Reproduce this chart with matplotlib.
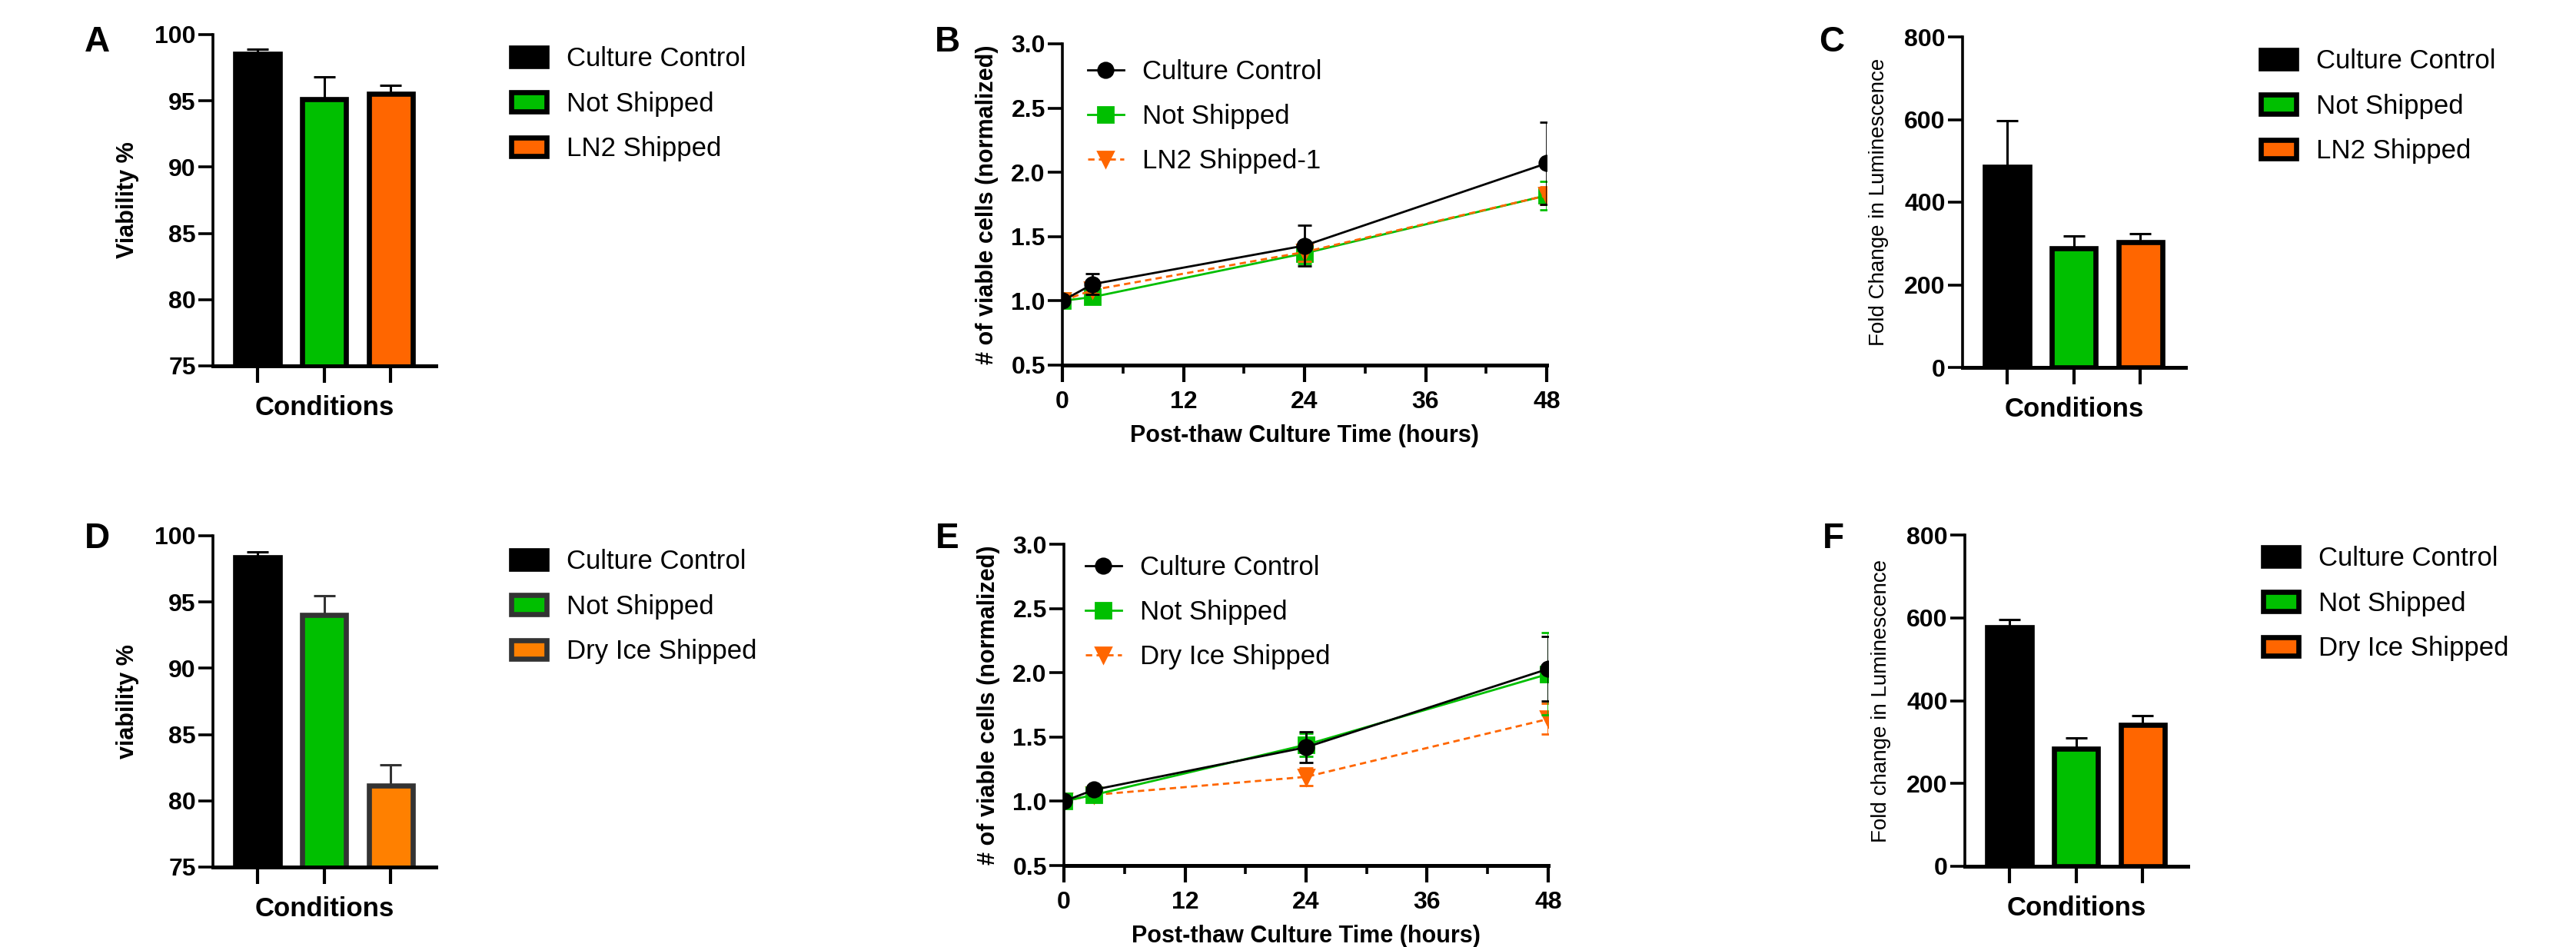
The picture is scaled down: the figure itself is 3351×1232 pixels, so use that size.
import numpy as np
import matplotlib
matplotlib.use("Agg")
import matplotlib.pyplot as plt
from matplotlib.patches import Patch
from matplotlib.lines import Line2D

plt.rcParams['font.family'] = ['Liberation Sans', 'DejaVu Sans']

# --- data ---
conditions_ln2 = ["Culture Control", "Not Shipped", "LN2 Shipped"]
conditions_dry = ["Culture Control", "Not Shipped", "Dry Ice Shipped"]

# A / D : viability %
viab_ln2 = [98.55, 95.1, 95.55]
viab_ln2_err = [0.35, 1.7, 0.6]
viab_dry = [98.4, 94.05, 81.15]
viab_dry_err = [0.4, 1.4, 1.55]

# C / F : fold change in luminescence
lum_ln2 = [485, 289, 304]
lum_ln2_err = [113, 30, 19]
lum_dry = [577, 284, 342]
lum_dry_err = [19, 26, 22]

# B / E : viable cells over time
hours = [0, 3, 24, 48]
b_cc = [1.0, 1.13, 1.43, 2.07]
b_cc_err = [0.0, 0.08, 0.16, 0.32]
b_ns = [1.0, 1.03, 1.37, 1.82]
b_ns_err = [0.02, 0.03, 0.08, 0.11]
b_ln2 = [1.0, 1.085, 1.38, 1.82]
b_ln2_err = [0.0, 0.03, 0.07, 0.07]
e_cc = [1.0, 1.09, 1.42, 2.03]
e_cc_err = [0.0, 0.02, 0.12, 0.25]
e_ns = [1.0, 1.05, 1.44, 1.99]
e_ns_err = [0.02, 0.02, 0.09, 0.32]
e_dry = [1.0, 1.05, 1.19, 1.64]
e_dry_err = [0.0, 0.02, 0.07, 0.12]

BLACK = "#000000"
GREEN = "#00BF00"
ORANGE = "#FF6600"
ORANGE2 = "#FF8000"
GREY = "#333333"

W, H = 3351, 1232
fig = plt.figure(figsize=(W / 200, H / 200), dpi=200)


def rect(left, top, right, bottom):
    return [left / W, 1 - bottom / H, (right - left) / W, (bottom - top) / H]


def style_axes(ax):
    ax.spines['top'].set_visible(False)
    ax.spines['right'].set_visible(False)
    ax.spines['left'].set_linewidth(1.3)
    ax.spines['bottom'].set_linewidth(1.8)
    for s in ax.spines.values():
        s.set_zorder(6)


def letter(x, y, s):
    fig.text(x / W, 1 - y / H, s, fontsize=16.5, fontweight='bold',
             ha='center', va='center')


def bar_panel(r, vals, errs, faces, edges, labels, ylim, yticks, ylabel,
              ylab_kw, leg_xy):
    ax = fig.add_axes(r)
    x = np.arange(len(vals))
    for i in range(len(vals)):
        ax.bar(x[i], vals[i], width=0.66, color=faces[i], edgecolor=edges[i],
               linewidth=2.4, zorder=3)
        ax.errorbar(x[i], vals[i], yerr=[[0], [errs[i]]], fmt='none',
                    ecolor=edges[i], elinewidth=1.1, capsize=5, capthick=1.1,
                    zorder=2)
    ax.set_xlim(-0.67, 2.68)
    ax.set_ylim(*ylim)
    style_axes(ax)
    ax.set_xticks(x)
    ax.set_xticklabels([])
    ax.tick_params(axis='x', length=8, width=1.5)
    ax.set_yticks(yticks)
    ax.set_yticklabels([str(t) for t in yticks], fontweight='bold')
    ax.tick_params(axis='y', length=7, width=1.3, labelsize=11.5, pad=1)
    ax.set_xlabel("Conditions", fontsize=12.5, fontweight='bold')
    ax.xaxis.set_label_coords(0.5, -0.088)
    ax.set_ylabel(ylabel, **ylab_kw)
    ax.yaxis.set_label_coords(-0.331, 0.5)
    handles = [Patch(facecolor=faces[i], edgecolor=edges[i], linewidth=2.4)
               for i in range(len(vals))]
    ax.legend(handles, labels, loc='upper left',
              bbox_to_anchor=(leg_xy[0] / W, 1 - leg_xy[1] / H),
              bbox_transform=fig.transFigure, frameon=False, fontsize=12.5,
              borderpad=0, borderaxespad=0, handlelength=1.33,
              handleheight=0.7, handletextpad=0.75, labelspacing=0.74)
    return ax


def line_panel(r, series, leg_xy):
    ax = fig.add_axes(r)
    handles, labels = [], []
    for vals, errs, color, marker, ls, label, z in series:
        ax.errorbar(hours, vals, yerr=errs, color=color, marker=marker,
                    markersize=7, linewidth=1.0, linestyle=ls,
                    dashes=(3, 2) if ls == '--' else (None, None),
                    elinewidth=1.0, capsize=3.4, capthick=1.0, zorder=z,
                    clip_on=True)
        h = Line2D([], [], color=color, marker=marker, markersize=7,
                   linewidth=1.0, linestyle=ls)
        if ls == '--':
            h.set_dashes((3, 2))
        handles.append(h)
        labels.append(label)
    ax.set_xlim(0, 48)
    ax.set_ylim(0.5, 3.0)
    style_axes(ax)
    ax.set_xticks([0, 12, 24, 36, 48])
    ax.set_xticklabels(['0', '12', '24', '36', '48'], fontweight='bold')
    ax.set_xticks([6, 18, 30, 42], minor=True)
    yt = [0.5, 1.0, 1.5, 2.0, 2.5, 3.0]
    ax.set_yticks(yt)
    ax.set_yticklabels(['%.1f' % t for t in yt], fontweight='bold')
    ax.tick_params(axis='x', which='major', length=8, width=1.5,
                   labelsize=11.5, pad=4)
    ax.tick_params(axis='x', which='minor', length=4, width=1.3)
    ax.tick_params(axis='y', length=7, width=1.3, labelsize=11.5, pad=1)
    ax.set_xlabel("Post-thaw Culture Time (hours)", fontsize=11,
                  fontweight='bold')
    ax.xaxis.set_label_coords(0.5, -0.184)
    ax.set_ylabel("# of viable cells (normalized)", fontsize=11,
                  fontweight='bold')
    ax.yaxis.set_label_coords(-0.132, 0.5)
    ax.legend(handles, labels, loc='upper left',
              bbox_to_anchor=(leg_xy[0] / W, 1 - leg_xy[1] / H),
              bbox_transform=fig.transFigure, frameon=False, fontsize=12.5,
              borderpad=0, borderaxespad=0, handlelength=1.35,
              handletextpad=0.7, labelspacing=0.72)
    return ax


bold_lab = dict(fontsize=11, fontweight='bold')
thin_lab = dict(fontsize=10)

# A
bar_panel(rect(277, 45, 567, 476), viab_ln2, viab_ln2_err,
          [BLACK, GREEN, ORANGE], [BLACK, BLACK, BLACK], conditions_ln2,
          (75, 100), [75, 80, 85, 90, 95, 100], "Viability %", bold_lab,
          (665, 60))
# D
bar_panel(rect(277, 697, 567, 1128), viab_dry, viab_dry_err,
          [BLACK, GREEN, ORANGE2], [BLACK, GREY, GREY], conditions_dry,
          (75, 100), [75, 80, 85, 90, 95, 100], "viability %", bold_lab,
          (665, 714))
# C
bar_panel(rect(2553, 48, 2843, 478), lum_ln2, lum_ln2_err,
          [BLACK, GREEN, ORANGE], [BLACK, BLACK, BLACK], conditions_ln2,
          (0, 800), [0, 200, 400, 600, 800], "Fold Change in Luminescence",
          thin_lab, (2941, 63))
# F
bar_panel(rect(2556, 696, 2846, 1127), lum_dry, lum_dry_err,
          [BLACK, GREEN, ORANGE], [BLACK, BLACK, BLACK], conditions_dry,
          (0, 800), [0, 200, 400, 600, 800], "Fold change in Luminescence",
          thin_lab, (2944, 710))

# B
line_panel(rect(1382, 57, 2012, 475), [
    (b_cc, b_cc_err, BLACK, 'o', '-', "Culture Control", 5),
    (b_ns, b_ns_err, GREEN, 's', '-', "Not Shipped", 3),
    (b_ln2, b_ln2_err, ORANGE, 'v', '--', "LN2 Shipped-1", 4),
], (1415, 77))
# E
line_panel(rect(1384, 708, 2014, 1126), [
    (e_cc, e_cc_err, BLACK, 'o', '-', "Culture Control", 5),
    (e_ns, e_ns_err, GREEN, 's', '-', "Not Shipped", 4),
    (e_dry, e_dry_err, ORANGE, 'v', '--', "Dry Ice Shipped", 3),
], (1412, 722))

letter(126, 55, "A")
letter(1232, 55, "B")
letter(2383, 55, "C")
letter(126, 701, "D")
letter(1232, 701, "E")
letter(2385, 701, "F")

fig.savefig("out.png", dpi=200)
